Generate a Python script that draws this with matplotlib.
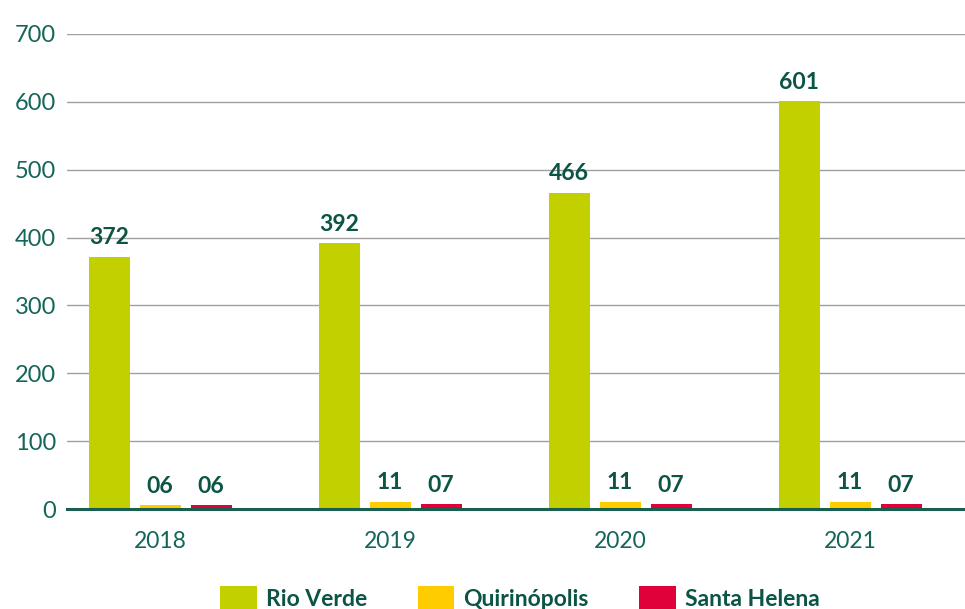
import matplotlib
matplotlib.use("Agg")
import matplotlib.pyplot as plt
from matplotlib.patches import Patch
import numpy as np

years = ["2018", "2019", "2020", "2021"]
series_names = ["Rio Verde", "Quirinópolis", "Santa Helena"]
rio_verde = [372, 392, 466, 601]
quirinopolis = [6, 11, 11, 11]
santa_helena = [6, 7, 7, 7]
yticks = [0, 100, 200, 300, 400, 500, 600, 700]

colors = ["#c3d000", "#ffcc00", "#e0003a"]
text_dark = "#0b5446"
tick_col = "#14665a"

plt.rcParams['font.family'] = ['Lato', 'DejaVu Sans']

fig = plt.figure(figsize=(9.65, 6.09), dpi=100)
ax = fig.add_axes([67/965, 100/609, 1 - 67/965, 475/609])

x = np.arange(len(years))
width = 41/230
offset = 51/230
data = [rio_verde, quirinopolis, santa_helena]
for i, (vals, col) in enumerate(zip(data, colors)):
    xs = x + (i - 1) * offset
    ax.bar(xs, vals, width=width, color=col, zorder=3)
    for xx, v in zip(xs, vals):
        ax.annotate(f"{v:02d}", (xx, v), xytext=(0, 6), textcoords="offset points",
                    ha="center", va="bottom", fontsize=16.5, fontweight="bold",
                    color=text_dark, zorder=4)

ax.set_xlim(-93/230, (965-160)/230)
ax.set_ylim(0, 700)
ax.set_yticks(yticks)
ax.set_yticklabels([str(t) for t in yticks], fontsize=17, color=tick_col)
ax.set_xticks(x)
ax.set_xticklabels(years, fontsize=16.5, color=tick_col)
ax.tick_params(axis="both", length=0)
ax.tick_params(axis="y", pad=8)
ax.tick_params(axis="x", pad=16)
ax.grid(axis="y", color="#a0a0a0", linewidth=1, zorder=0)
for s in ["top", "right", "left"]:
    ax.spines[s].set_visible(False)
ax.spines["bottom"].set_color("#1a5e50")
ax.spines["bottom"].set_linewidth(2.2)
ax.spines["bottom"].set_zorder(5)

handles = [Patch(facecolor=c, edgecolor="none") for c in colors]
leg = fig.legend(handles, series_names, loc="center", bbox_to_anchor=(520/965, 11/609),
                 ncol=3, frameon=False, handlelength=1.6, handleheight=1.2,
                 columnspacing=2.2, handletextpad=0.4, borderpad=0,
                 prop={"size": 16.5, "weight": "bold"})
for t in leg.get_texts():
    t.set_color(text_dark)

fig.savefig("out.png", dpi=100)
